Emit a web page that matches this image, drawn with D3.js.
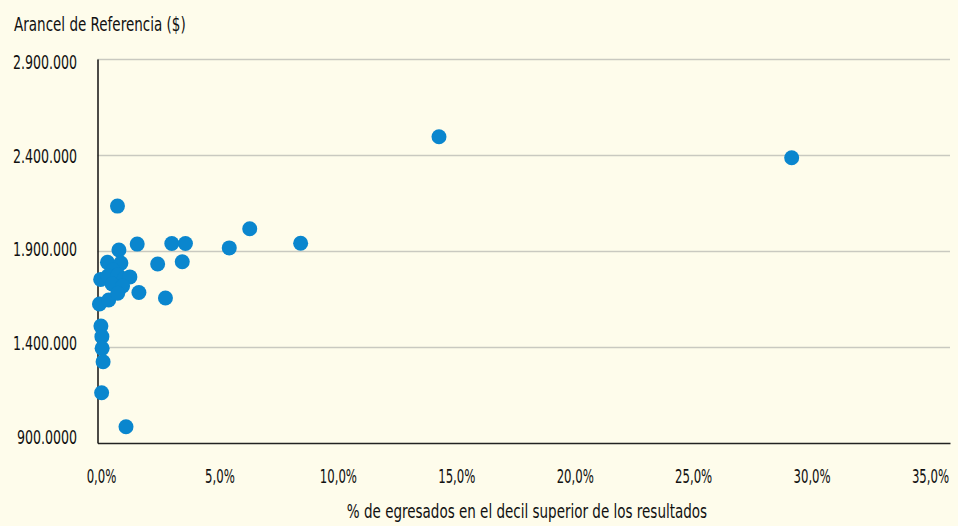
<!DOCTYPE html>
<html>
<head>
<meta charset="utf-8">
<script src="https://cdn.jsdelivr.net/npm/d3@7"></script>
<style>
  body { margin: 0; background: #FEFCEB; }
  svg text { font-family: "DejaVu Sans Condensed", "DejaVu Sans", sans-serif; fill: #111; }
</style>
</head>
<body>
<div id="chart"></div>
<script>
// % de egresados en el decil superior (x) y arancel de referencia (y)
var pctDecil = [0.82, 0.88, 1.63, 3.05, 3.61, 2.47, 3.48, 5.41, 6.25, 8.34,
                14.02, 28.50, 1.70, 2.79, 0.08, 0.46, 0.14, 0.18, 0.19, 0.23,
                0.17, 1.17, 0.13, 0.41, 0.96, 0.64, 0.43, 0.84, 1.09, 1.33,
                0.60, 1.03, 0.83];
var arancel = [2134000, 1905000, 1936000, 1939000, 1939000, 1832000, 1844000, 1916000, 2016000, 1940000,
               2495000, 2386000, 1684000, 1655000, 1624000, 1645000, 1509000, 1454000, 1393000, 1323000,
               1162000, 985000, 1752000, 1841000, 1837000, 1801000, 1770000, 1775000, 1754000, 1765000,
               1728000, 1718000, 1680000];

var xTicks = [0, 5, 10, 15, 20, 25, 30, 35];
var xTickLabels = ["0,0%", "5,0%", "10,0%", "15,0%", "20,0%", "25,0%", "30,0%", "35,0%"];
var yTicks = [900000, 1400000, 1900000, 2400000, 2900000];
var yTickLabels = ["900.0000", "1.400.000", "1.900.000", "2.400.000", "2.900.000"];

var yTitle = "Arancel de Referencia ($)";
var xTitle = "% de egresados en el decil superior de los resultados";

function drawChart() {
  var width = 958, height = 526;
  var plotLeft = 97.5, plotRight = 950, plotTop = 59, plotBottom = 443;

  // the source font is a tall narrow one, squeeze the text to match
  function condense(sel, k) {
    sel.each(function(){
      var w = this.getComputedTextLength();
      d3.select(this).attr("textLength", w * k).attr("lengthAdjust", "spacingAndGlyphs");
    });
  }

  var svg = d3.select("#chart").append("svg")
    .attr("width", width)
    .attr("height", height);

  svg.append("rect").attr("width", width).attr("height", height).attr("fill", "#FEFCEB");

  // plot scales
  var x = d3.scaleLinear().domain([0, 35]).range([plotLeft, plotRight]);
  var y = d3.scaleLinear().domain([900000, 2900000]).range([plotBottom, plotTop]);
  // label scales (labels sit slightly inside the plot frame, as in the source)
  var xLab = d3.scaleLinear().domain([0, 35]).range([101, 930]);
  var yLab = d3.scaleLinear().domain([900000, 2900000]).range([436, 61.7]);

  // gridlines
  var grid = svg.append("g")
    .attr("transform", "translate(" + plotLeft + ",0)")
    .call(d3.axisLeft(y).tickValues(yTicks.slice(1)).tickSize(-(plotRight - plotLeft)).tickFormat(""));
  grid.select(".domain").remove();
  grid.selectAll("line").attr("stroke", "#C9C9C0").attr("stroke-width", 1.5);

  // x axis line
  var xAxis = svg.append("g")
    .attr("transform", "translate(0," + plotBottom + ")")
    .call(d3.axisBottom(x).tickValues([]).tickSizeOuter(0));
  xAxis.select(".domain").attr("stroke", "#222").attr("stroke-width", 1.5);

  // y axis line
  var yAxis = svg.append("g")
    .attr("transform", "translate(" + plotLeft + ",0)")
    .call(d3.axisLeft(y).tickValues([]).tickSizeOuter(0));
  yAxis.select(".domain").attr("stroke", "#111").attr("stroke-width", 1.5);

  // tick labels
  var xLabels = svg.append("g")
    .attr("transform", "translate(0,476)")
    .call(d3.axisBottom(xLab).tickValues(xTicks).tickSize(0).tickPadding(0)
      .tickFormat(function(d, i){ return xTickLabels[i]; }));
  xLabels.select(".domain").remove();
  xLabels.selectAll("text").attr("dy", "0.35em").style("font-size", "20px").attr("fill", "#111");
  condense(xLabels.selectAll("text"), 0.65);

  var yLabels = svg.append("g")
    .attr("transform", "translate(77,0)")
    .call(d3.axisLeft(yLab).tickValues(yTicks).tickSize(0).tickPadding(0)
      .tickFormat(function(d, i){ return yTickLabels[i]; }));
  yLabels.select(".domain").remove();
  yLabels.selectAll("text").attr("dy", "0.35em").style("font-size", "20px").attr("fill", "#111");
  condense(yLabels.selectAll("text"), 0.70);

  // points
  var data = pctDecil.map(function(d, i){ return {x: d, y: arancel[i]}; });
  svg.append("g").selectAll("circle").data(data).enter().append("circle")
    .attr("cx", function(d){ return x(d.x); })
    .attr("cy", function(d){ return y(d.y); })
    .attr("r", 7.5)
    .attr("fill", "#0A86CE");

  // titles
  var t1 = svg.append("text")
    .attr("x", 14).attr("y", 31)
    .style("font-size", "19.5px")
    .text(yTitle);
  condense(t1, 0.77);

  var t2 = svg.append("text")
    .attr("x", 527).attr("y", 518)
    .attr("text-anchor", "middle")
    .style("font-size", "20px")
    .text(xTitle);
  condense(t2, 0.75);
}
drawChart();
</script>
</body>
</html>
